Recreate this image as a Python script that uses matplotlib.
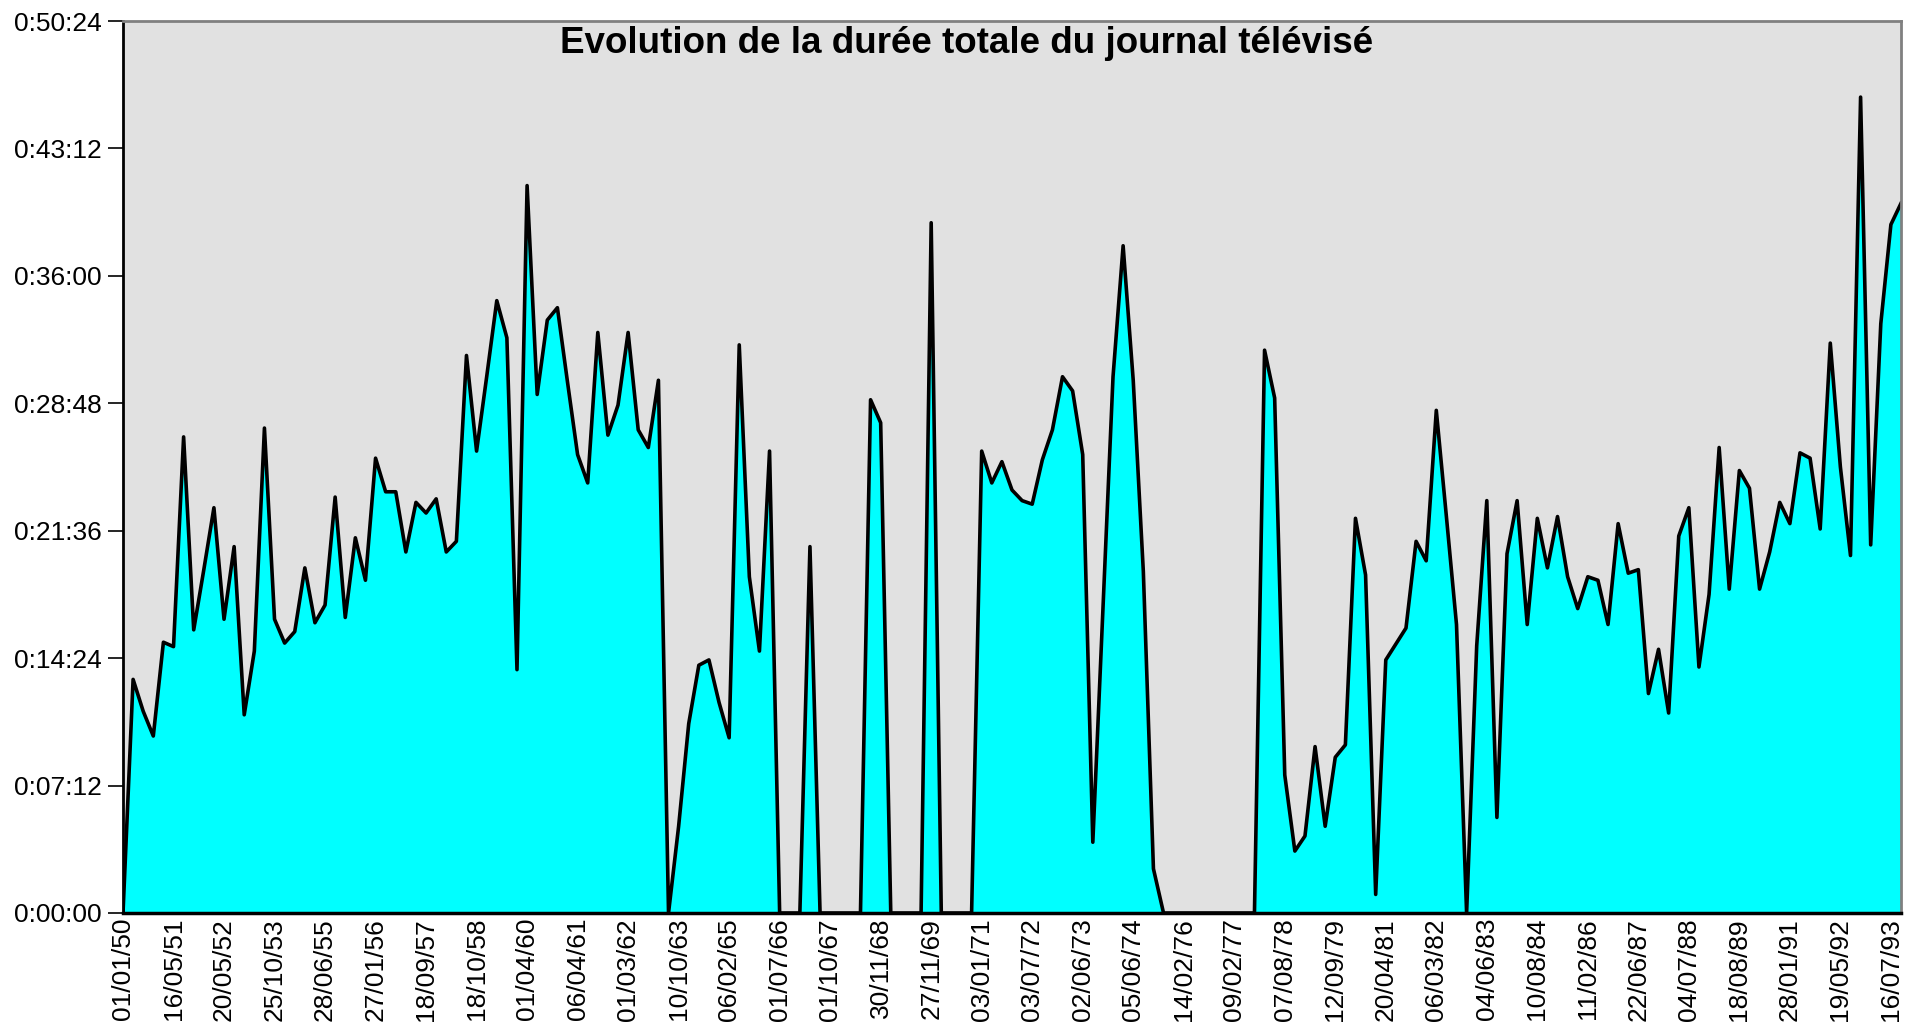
import numpy as np
import matplotlib.pyplot as plt
from matplotlib.ticker import MultipleLocator, FuncFormatter

plt.rcParams['font.family'] = ['Liberation Sans', 'DejaVu Sans']

# durée totale du JT, en minutes
duree_min = [
    0, 13.2, 11.4, 10.0, 15.3, 15.05, 26.9, 16.0, 19.4, 22.9,
    16.6, 20.7, 11.2, 14.8, 27.4, 16.6, 15.25, 15.9, 19.5, 16.4,
    17.4, 23.5, 16.7, 21.2, 18.8, 25.7, 23.8, 23.8, 20.4, 23.2,
    22.6, 23.4, 20.4, 21.0, 31.5, 26.1, 30.3, 34.6, 32.5, 13.75,
    41.1, 29.3, 33.5, 34.2, 30.0, 25.9, 24.3, 32.8, 27.0, 28.7,
    32.8, 27.3, 26.3, 30.1, 0, 4.9, 10.7, 14.0, 14.3, 11.9,
    9.9, 32.1, 19.0, 14.8, 26.1, 0, 0, 0, 20.7, 0,
    0, 0, 0, 0, 29.0, 27.7, 0, 0, 0, 0,
    39.0, 0, 0, 0, 0, 26.1, 24.3, 25.5, 23.9, 23.3,
    23.1, 25.6, 27.3, 30.3, 29.5, 25.9, 4.0, 17.1, 30.3, 37.7,
    30.1, 19.3, 2.5, 0, 0, 0, 0, 0, 0, 0,
    0, 0, 0, 31.8, 29.1, 7.8, 3.5, 4.35, 9.4, 4.9,
    8.8, 9.5, 22.3, 19.1, 1.05, 14.3, 15.2, 16.1, 21.0, 19.9,
    28.4, 22.4, 16.3, 0, 15.1, 23.3, 5.4, 20.3, 23.3, 16.3,
    22.3, 19.5, 22.4, 19.0, 17.2, 19.0, 18.8, 16.3, 22.0, 19.2,
    19.4, 12.4, 14.9, 11.3, 21.3, 22.9, 13.9, 18.0, 26.3, 18.3,
    25.0, 24.0, 18.3, 20.4, 23.2, 22.0, 26.0, 25.7, 21.7, 32.2,
    25.2, 20.2, 46.1, 20.8, 33.3, 38.9, 40.1,
]

dates = [
    "01/01/50", "16/05/51", "20/05/52", "25/10/53", "28/06/55", "27/01/56",
    "18/09/57", "18/10/58", "01/04/60", "06/04/61", "01/03/62", "10/10/63",
    "06/02/65", "01/07/66", "01/10/67", "30/11/68", "27/11/69", "03/01/71",
    "03/07/72", "02/06/73", "05/06/74", "14/02/76", "09/02/77", "07/08/78",
    "12/09/79", "20/04/81", "06/03/82", "04/06/83", "10/08/84", "11/02/86",
    "22/06/87", "04/07/88", "18/08/89", "28/01/91", "19/05/92", "16/07/93",
]

titre = "Evolution de la durée totale du journal télévisé"


def hms(v, pos):
    s = int(round(v * 60))
    return f"{s // 3600}:{s % 3600 // 60:02d}:{s % 60:02d}"


x = np.arange(len(duree_min))

fig = plt.figure(figsize=(19.12, 10.23), dpi=100)
ax = fig.add_axes([123 / 1912, 1 - 913 / 1023, 1778 / 1912, 892 / 1023])
ax.set_facecolor('#e1e1e1')

ax.fill_between(x, duree_min, color='#00ffff', lw=0)
ax.plot(x, duree_min, color='black', lw=2.6)

ax.set_xlim(0, len(duree_min) - 1)
ax.set_ylim(0, 50.4)
ax.yaxis.set_major_locator(MultipleLocator(7.2))
ax.yaxis.set_major_formatter(FuncFormatter(hms))

ax.set_xticks(x[::5])
ax.set_xticklabels(dates, rotation=90)

ax.tick_params(axis='y', labelsize=19, length=10.8, width=1.2, pad=4.7)
ax.tick_params(axis='x', labelsize=19, length=0, pad=3.6)

for side in ['top', 'right']:
    ax.spines[side].set_color('#808080')
    ax.spines[side].set_linewidth(2)
ax.spines['left'].set_linewidth(2)
ax.spines['bottom'].set_linewidth(2.5)

fig.text(967 / 1912, 1 - 53 / 1023, titre, ha='center', va='baseline',
         fontsize=26.5, fontweight='bold')

fig.savefig('out.png', dpi=100)
